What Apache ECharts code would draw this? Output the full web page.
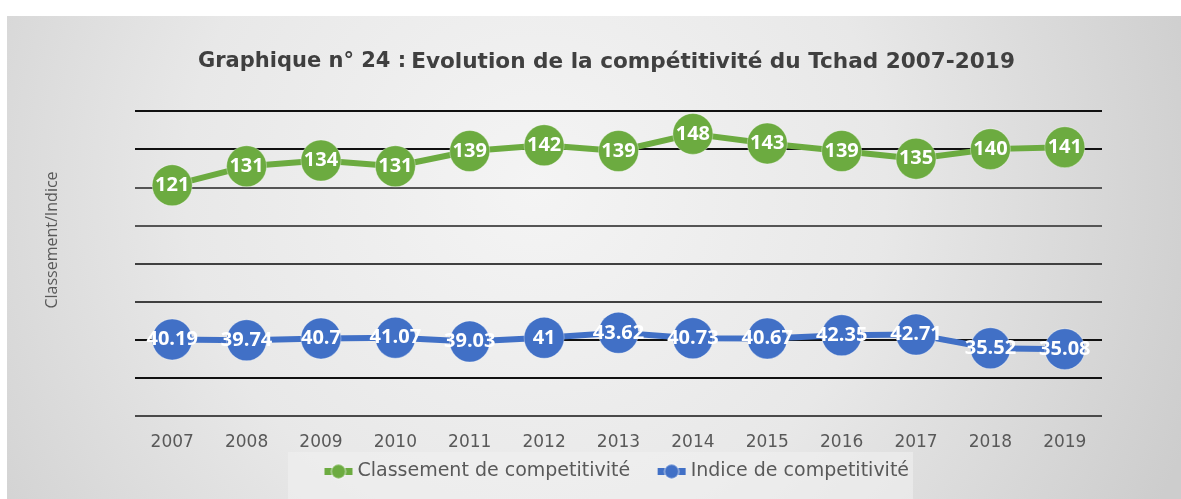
<!DOCTYPE html>
<html>
<head>
<meta charset="utf-8">
<script src="https://cdn.jsdelivr.net/npm/echarts@6/dist/echarts.min.js"></script>
<style>
html,body{margin:0;padding:0;background:#fff;}
#c{width:1181px;height:499px;}
</style>
</head>
<body>
<div id="c"></div>
<script>
const years = ['2007','2008','2009','2010','2011','2012','2013','2014','2015','2016','2017','2018','2019'];
const classement = [121,131,134,131,139,142,139,148,143,139,135,140,141];
const indice = [40.19,39.74,40.7,41.07,39.03,41,43.62,40.73,40.67,42.35,42.71,35.52,35.08];
const seriesNames = ['Classement de competitivité','Indice de competitivité'];
const axisName = 'Classement/Indice';

const chart = echarts.init(document.getElementById('c'));
const font = 'Open Sans';
const dv = 'DejaVu Sans';
function lineSeries(name, data, color) {
  return {
    name: name,
    type: 'line',
    data: data,
    symbol: 'circle',
    symbolSize: [40, 41],
    lineStyle: { color: color, width: 6 },
    itemStyle: { color: color, borderColor: 'rgba(255,255,255,0.35)', borderWidth: 1 },
    label: {
      show: true, position: 'inside', color: '#fff',
      fontFamily: font, fontWeight: 'bold', fontSize: 20
    },
    emphasis: { disabled: true },
    animation: false
  };
}
chart.setOption({
  animation: false,
  graphic: [
    { type: 'rect', z: -10, shape: { x: 7, y: 16, width: 1174, height: 483 },
      style: { fill: new echarts.graphic.RadialGradient(0.45, 0.35, 1.45, [
        { offset: 0, color: '#f4f4f4' }, { offset: 0.5, color: '#e8e8e8' }, { offset: 1, color: '#cdcdcd' }]) } },
    { type: 'rect', z: -9, shape: { x: 288, y: 452, width: 625, height: 47 },
      style: { fill: 'rgba(240,240,240,0.6)' } },
    { type: 'text', z: 5, x: 52, y: 240, rotation: Math.PI / 2,
      style: { text: axisName, fontFamily: font, fontSize: 16, fill: '#595959',
               textAlign: 'center', textVerticalAlign: 'middle' } }
  ],
  title: {
    text: '{b|Graphique n° 24 :} {n|Evolution de la compétitivité du Tchad 2007-2019}',
    left: 193, top: 46,
    textStyle: {
      rich: {
        b: { fontFamily: dv, fontWeight: 'bold', fontSize: 21, color: '#3f3f3f' },
        n: { fontFamily: dv, fontSize: 21.6, color: '#404040' }
      }
    }
  },
  legend: {
    data: seriesNames,
    left: 316, top: 457,
    itemWidth: 28, itemHeight: 18, itemGap: 24,
    lineStyle: { width: 7 },
    textStyle: { fontFamily: dv, fontSize: 19, color: '#595959' }
  },
  grid: { left: 135, right: 79, top: 111, bottom: 83 },
  xAxis: {
    type: 'category', data: years, boundaryGap: true,
    axisLine: { show: false }, axisTick: { show: false },
    axisLabel: { fontFamily: dv, fontSize: 17, color: '#595959', margin: 18 }
  },
  yAxis: {
    type: 'value', min: 0, max: 160, interval: 20,
    axisLabel: { show: false }, axisLine: { show: false }, axisTick: { show: false },
    splitLine: { lineStyle: { width: 2, color: ['#4a4a4a','#111','#111','#404040','#404040','#555','#555','#111','#111'] } }
  },
  series: [
    lineSeries(seriesNames[0], classement, '#6cab40'),
    lineSeries(seriesNames[1], indice, '#4170c6')
  ]
});
</script>
</body>
</html>
